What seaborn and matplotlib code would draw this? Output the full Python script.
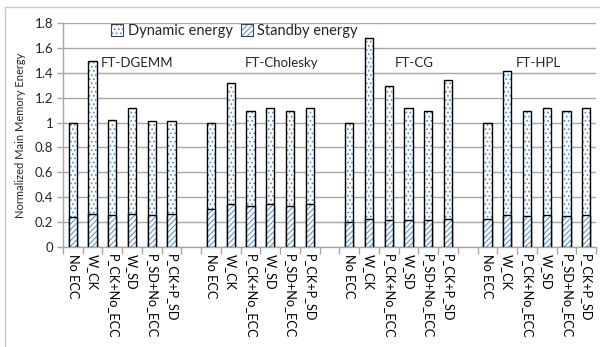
import matplotlib
matplotlib.use("Agg")
import matplotlib.pyplot as plt
import seaborn as sns
import pandas as pd
from matplotlib.patches import Patch
from matplotlib.lines import Line2D
from matplotlib.ticker import FixedLocator, FuncFormatter

# ---------------- data ----------------
apps = ["FT-DGEMM", "FT-Cholesky", "FT-CG", "FT-HPL"]
configs = ["No ECC", "W_CK", "P_CK+No_ECC", "W_SD", "P_SD+No_ECC", "P_CK+P_SD"]

total_dgemm = [1.00, 1.49, 1.02, 1.12, 1.01, 1.01]
total_cholesky = [1.00, 1.32, 1.09, 1.12, 1.09, 1.12]
total_cg = [1.00, 1.68, 1.29, 1.12, 1.09, 1.34]
total_hpl = [1.00, 1.41, 1.09, 1.12, 1.09, 1.12]

standby_dgemm = [0.24, 0.27, 0.26, 0.27, 0.26, 0.27]
standby_cholesky = [0.31, 0.35, 0.33, 0.35, 0.33, 0.35]
standby_cg = [0.20, 0.23, 0.22, 0.22, 0.22, 0.23]
standby_hpl = [0.23, 0.26, 0.25, 0.26, 0.25, 0.26]

series_labels = ["Dynamic energy", "Standby energy"]
y_ticks = [0, 0.2, 0.4, 0.6, 0.8, 1.0, 1.2, 1.4, 1.6, 1.8]

totals = [total_dgemm, total_cholesky, total_cg, total_hpl]
standbys = [standby_dgemm, standby_cholesky, standby_cg, standby_hpl]

rows = []
order = []
tick_labels = []
for gi, app in enumerate(apps):
    if gi > 0:
        order.append(f"gap{gi}")
        tick_labels.append("")
    for ci, cfg in enumerate(configs):
        slot = f"{app}|{cfg}"
        order.append(slot)
        tick_labels.append(cfg)
        rows.append({"slot": slot, "total": totals[gi][ci], "standby": standbys[gi][ci]})
df = pd.DataFrame(rows)

# ---------------- style ----------------
sns.set_theme(style="white")
plt.rcParams["font.family"] = ["Lato", "DejaVu Sans"]
plt.rcParams["hatch.linewidth"] = 0.7

BLUE = "#4a8bd0"
GRID = "#a6a6a6"

fig = plt.figure(figsize=(6.0, 3.47), dpi=100)
ax = fig.add_axes([63 / 600, 1 - 247.3 / 347, (596 - 63) / 600, (247.3 - 22.7) / 347])

W = 0.42
# dynamic (stacked on top) -> full height with dots
sns.barplot(data=df, x="slot", y="total", order=order, color="white", edgecolor=BLUE,
            linewidth=0, hatch="....", width=W, errorbar=None, ax=ax, zorder=2)
sns.barplot(data=df, x="slot", y="total", order=order, fill=False, color="black",
            linewidth=1.0, width=W, errorbar=None, ax=ax, zorder=3)
# standby (bottom)
sns.barplot(data=df, x="slot", y="standby", order=order, color="white", edgecolor=BLUE,
            linewidth=0, hatch="//////", width=W, errorbar=None, ax=ax, zorder=4)
sns.barplot(data=df, x="slot", y="standby", order=order, fill=False, color="black",
            linewidth=1.0, width=W, errorbar=None, ax=ax, zorder=5)

ax.set_ylim(0, 1.8)
ax.set_xlim(-0.5, len(order) - 0.5)
ax.set_yticks(y_ticks)
ax.yaxis.set_major_formatter(FuncFormatter(lambda v, p: f"{v:g}"))
ax.grid(axis="y", color=GRID, linewidth=1.0, zorder=0)
ax.set_axisbelow(True)

ax.set_xticks(range(len(order)))
ax.set_xticklabels(tick_labels, rotation=-90, fontsize=9.2, va="top", ha="center")
ax.xaxis.set_minor_locator(FixedLocator([i - 0.5 for i in range(len(order) + 1)]))
ax.tick_params(axis="x", which="major", length=0, pad=5, colors="black")
ax.tick_params(axis="x", which="minor", length=5, width=1, color=GRID, direction="out", bottom=True)
ax.tick_params(axis="y", which="major", length=4, width=1, color=GRID, direction="out",
               left=True, labelsize=9.5, pad=3)
ax.set_xlabel("")
ax.set_ylabel("Normalized Main Memory Energy", fontsize=8, labelpad=6)

for s in ["top", "right"]:
    ax.spines[s].set_visible(False)
for s in ["left", "bottom"]:
    ax.spines[s].set_color(GRID)
    ax.spines[s].set_linewidth(1.0)

# group labels
for name, xpos in zip(apps, [3.24, 10.57, 17.28, 23.57]):
    ax.text(xpos, 1.48, name, ha="center", va="center", fontsize=9.5, zorder=6)

# legend
h_dyn = (Patch(facecolor="white", edgecolor=BLUE, hatch="....", linewidth=0),
         Patch(facecolor="none", edgecolor="#404040", linewidth=0.8))
h_sb = (Patch(facecolor="white", edgecolor=BLUE, hatch="//////", linewidth=0),
        Patch(facecolor="none", edgecolor="#404040", linewidth=0.8))
leg = ax.legend([h_dyn, h_sb], series_labels, loc="upper left",
                bbox_to_anchor=(0.08, 1.02), ncol=2, frameon=False, fontsize=10.5,
                handlelength=0.8, handleheight=0.8, handletextpad=0.3, columnspacing=0.6,
                borderaxespad=0)

# outer chart-area border
fig.add_artist(Line2D([5 / 600, 5 / 600], [0, 1 - 7 / 347], transform=fig.transFigure,
                      color="#c8c8c8", linewidth=1.0))
fig.add_artist(Line2D([5 / 600, 1], [1 - 7 / 347, 1 - 7 / 347], transform=fig.transFigure,
                      color="#c8c8c8", linewidth=1.0))

fig.savefig("out.png", dpi=100)
